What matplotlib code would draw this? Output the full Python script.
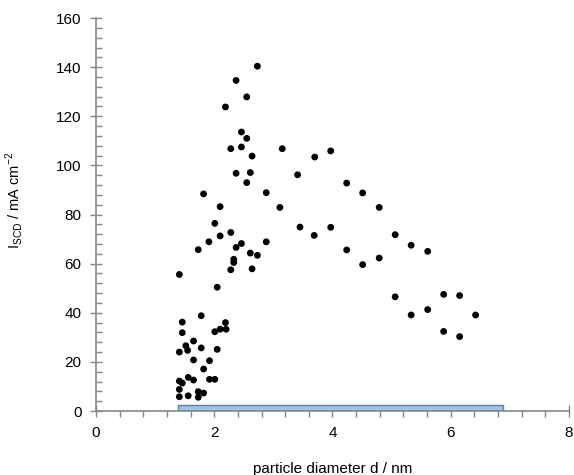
import numpy as np
import matplotlib.pyplot as plt
from matplotlib.ticker import MultipleLocator

plt.rcParams['font.family'] = ['Liberation Sans', 'DejaVu Sans']

# particle diameter (nm) and current density I_SCD (mA cm^-2)
diameter = [2.73, 2.37, 2.55, 2.19, 2.46, 2.55, 2.28, 2.46, 3.15, 2.64, 2.37, 2.61, 2.55, 3.41, 1.82, 2.88,
            2.10, 3.11, 2.01, 2.28, 2.10, 1.91, 2.46, 2.88, 1.73, 2.37, 2.61, 2.73, 2.33, 2.33, 2.28, 2.64,
            1.41, 2.05, 1.78, 1.46, 2.19, 2.01, 2.10, 2.20, 1.46, 1.65, 1.52, 1.55, 1.41, 1.78, 2.05, 1.65,
            1.92, 1.82, 1.56, 1.65, 1.92, 2.01, 1.41, 1.46, 1.41, 1.73, 1.82, 1.41, 1.56, 1.73,
            3.70, 3.97, 4.24, 4.51, 4.79, 3.45, 3.69, 3.97, 4.24, 4.51, 4.79, 5.06, 5.33, 5.61,
            5.06, 5.33, 5.61, 5.88, 6.15, 6.42, 5.88, 6.15]
current = [140.4, 134.6, 127.9, 123.8, 113.6, 111.0, 106.8, 107.5, 106.8, 103.8, 96.8, 97.1, 93.0, 96.2, 88.4, 88.9,
           83.2, 82.9, 76.4, 72.7, 71.3, 68.9, 68.2, 68.9, 65.7, 66.6, 64.3, 63.4, 61.8, 60.5, 57.5, 57.9,
           55.6, 50.4, 38.8, 36.2, 36.0, 32.3, 33.3, 33.3, 31.9, 28.5, 26.6, 24.7, 24.0, 25.7, 25.1, 20.8,
           20.5, 17.1, 13.7, 12.6, 12.9, 12.9, 12.2, 11.4, 8.8, 7.9, 7.3, 5.8, 6.2, 5.6,
           103.4, 105.9, 92.8, 88.8, 82.9, 74.9, 71.5, 74.8, 65.6, 59.6, 62.3, 71.8, 67.5, 65.0,
           46.5, 39.1, 41.3, 47.5, 47.0, 39.1, 32.4, 30.3]

# size range bar
range_start = 1.38
range_end = 6.89
range_height = 2.6

x_ticks = [0, 2, 4, 6, 8]
y_ticks = [0, 20, 40, 60, 80, 100, 120, 140, 160]

axis_gray = "#868686"

fig = plt.figure(figsize=(5.74, 4.75), dpi=100)
ax = fig.add_axes([0.1672, 0.1347, 0.8241, 0.8273])

ax.barh(range_height / 2, range_end - range_start, height=range_height, left=range_start,
        color="#a7bfde", edgecolor="#4f81bd", linewidth=1.0, zorder=2)
ax.scatter(diameter, current, s=24, color="black", edgecolors="none", zorder=3)

ax.set_xlim(0, 8)
ax.set_ylim(0, 160)
ax.set_xticks(x_ticks)
ax.set_yticks(y_ticks)
ax.xaxis.set_minor_locator(MultipleLocator(0.4))
ax.yaxis.set_minor_locator(MultipleLocator(4))

for side in ["top", "right"]:
    ax.spines[side].set_visible(False)
for side in ["left", "bottom"]:
    ax.spines[side].set_color(axis_gray)
    ax.spines[side].set_linewidth(1.2)

ax.tick_params(which="major", direction="inout", length=9, width=1, color=axis_gray,
               labelsize=11, pad=6)
ax.tick_params(axis="x", which="minor", direction="out", length=4, width=1, color=axis_gray)
ax.tick_params(axis="y", which="minor", direction="in", length=4, width=1, color=axis_gray)

ax.set_xlabel("particle diameter d / nm", fontsize=11, labelpad=16)
ax.set_ylabel(r"I$_\mathregular{SCD}$ / mA cm$^\mathregular{-2}$", fontsize=10.5)
ax.yaxis.set_label_coords(-0.150, 0.537)

fig.savefig("out.png", dpi=100, facecolor="white")
